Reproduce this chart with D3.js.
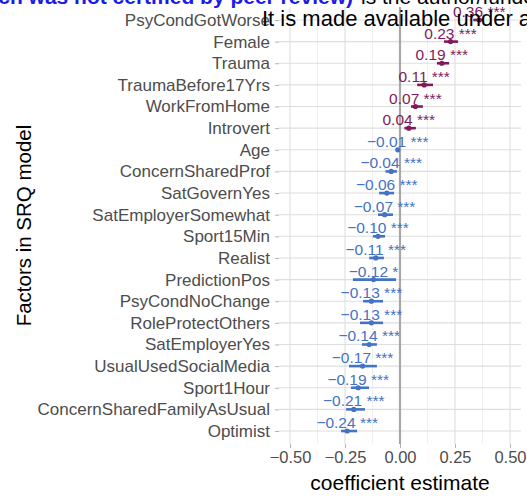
<!DOCTYPE html>
<html>
<head>
<meta charset="utf-8">
<script src="https://cdn.jsdelivr.net/npm/d3@7"></script>
<style>
  body { margin: 0; background: #fff; }
  svg { display: block; font-family: "Liberation Sans", Arial, sans-serif; }
</style>
</head>
<body>
<div id="chart"></div>
<script>
// factors top to bottom
const factors = [
    "PsyCondGotWorse", "Female", "Trauma", "TraumaBefore17Yrs", "WorkFromHome",
    "Introvert", "Age", "ConcernSharedProf", "SatGovernYes", "SatEmployerSomewhat",
    "Sport15Min", "Realist", "PredictionPos", "PsyCondNoChange", "RoleProtectOthers",
    "SatEmployerYes", "UsualUsedSocialMedia", "Sport1Hour", "ConcernSharedFamilyAsUsual", "Optimist"
];
const estimates = [0.36, 0.23, 0.19, 0.11, 0.07, 0.04, -0.01, -0.04, -0.06, -0.07,
    -0.10, -0.11, -0.12, -0.13, -0.13, -0.14, -0.17, -0.19, -0.21, -0.24];
const lower = [0.333, 0.200, 0.168, 0.078, 0.050, 0.020, -0.013, -0.066, -0.095, -0.100,
    -0.123, -0.140, -0.214, -0.168, -0.182, -0.173, -0.232, -0.223, -0.245, -0.268];
const upper = [0.377, 0.264, 0.223, 0.150, 0.104, 0.072, -0.007, -0.014, -0.027, -0.032,
    -0.068, -0.073, -0.018, -0.077, -0.077, -0.105, -0.105, -0.141, -0.159, -0.195];
const stars = ["***", "***", "***", "***", "***", "***", "***", "***", "***", "***",
    "***", "***", "*", "***", "***", "***", "***", "***", "***", "***"];
const xTicks = [-0.5, -0.25, 0, 0.25, 0.5];
const xMinor = [-0.375, -0.125, 0.125, 0.375];

const data = factors.map((f, i) => ({
    factor: f, est: estimates[i], lo: lower[i], hi: upper[i], stars: stars[i]
}));

const width = 527, height = 497;
const margin = { top: 7, right: 6, bottom: 53, left: 279 };
const posColor = "#7F1B5B", negColor = "#4472C4";

const svg = d3.select("#chart").append("svg")
    .attr("width", width)
    .attr("height", height);

const x = d3.scaleLinear()
    .domain([-0.55, 0.55])
    .range([margin.left, width - margin.right]);

const y = d3.scalePoint()
    .domain(factors)
    .range([margin.top, height - margin.bottom])
    .padding(0.6);

const panelTop = margin.top, panelBottom = height - margin.bottom;

// grid
const grid = svg.append("g");
grid.selectAll(".minor")
    .data(xMinor)
    .join("line")
    .attr("x1", d => x(d)).attr("x2", d => x(d))
    .attr("y1", panelTop).attr("y2", panelBottom)
    .attr("stroke", "#e6e6e6").attr("stroke-width", 0.6);
grid.selectAll(".vmajor")
    .data(xTicks)
    .join("line")
    .attr("x1", d => x(d)).attr("x2", d => x(d))
    .attr("y1", panelTop).attr("y2", panelBottom)
    .attr("stroke", "#dedede").attr("stroke-width", 1.1);
grid.selectAll(".hmajor")
    .data(factors)
    .join("line")
    .attr("x1", margin.left).attr("x2", width - margin.right)
    .attr("y1", d => y(d)).attr("y2", d => y(d))
    .attr("stroke", "#dedede").attr("stroke-width", 1.1);

// zero reference line
svg.append("line")
    .attr("x1", x(0)).attr("x2", x(0))
    .attr("y1", panelTop).attr("y2", panelBottom)
    .attr("stroke", "#a8a8a8").attr("stroke-width", 2.2);

// axes
const xAxis = svg.append("g")
    .attr("transform", `translate(0,${panelBottom})`)
    .call(d3.axisBottom(x).tickValues(xTicks).tickSize(4).tickPadding(3)
        .tickFormat(d => d3.format(".2f")(d).replace("-", "\u2212")));
xAxis.select(".domain").remove();
xAxis.selectAll("line").attr("stroke", "#b3b3b3");
xAxis.selectAll("text").attr("fill", "#4d4d4d").attr("font-size", "16.5px");

const yAxis = svg.append("g")
    .attr("transform", `translate(${margin.left},0)`)
    .call(d3.axisLeft(y).tickSize(4).tickPadding(5));
yAxis.select(".domain").remove();
yAxis.selectAll("line").attr("stroke", "#b3b3b3");
yAxis.selectAll("text").attr("fill", "#4d4d4d").attr("font-size", "17px");

// CI segments and points
const color = d => d.est > 0 ? posColor : negColor;
svg.selectAll(".ci")
    .data(data)
    .join("line")
    .attr("x1", d => x(d.lo)).attr("x2", d => x(d.hi))
    .attr("y1", d => y(d.factor)).attr("y2", d => y(d.factor))
    .attr("stroke", color).attr("stroke-width", 2.6);
svg.selectAll(".pt")
    .data(data)
    .join("circle")
    .attr("cx", d => x(d.est)).attr("cy", d => y(d.factor))
    .attr("r", 2.6)
    .attr("fill", color);

// value labels
svg.selectAll(".lbl")
    .data(data)
    .join("text")
    .attr("x", d => x(d.est))
    .attr("y", d => y(d.factor) - 3)
    .attr("text-anchor", "middle")
    .attr("font-size", "15.5px")
    .attr("fill", color)
    .text(d => d3.format(".2f")(d.est).replace("-", "\u2212") + " " + d.stars);

// axis titles
svg.append("text")
    .attr("x", x(0))
    .attr("y", 490)
    .attr("text-anchor", "middle")
    .attr("font-size", "21px")
    .attr("fill", "#000")
    .text("coefficient estimate");

svg.append("text")
    .attr("transform", `translate(31,${(panelTop + panelBottom) / 2}) rotate(-90)`)
    .attr("text-anchor", "middle")
    .attr("font-size", "20.5px")
    .attr("fill", "#000")
    .text("Factors in SRQ model");

// preprint watermark lines on top
svg.append("text")
    .attr("x", 353)
    .attr("y", 4)
    .attr("text-anchor", "end")
    .attr("font-size", "21px")
    .attr("font-weight", "bold")
    .attr("fill", "#1a1aee")
    .text("preprint (which was not certified by peer review)");
svg.append("text")
    .attr("x", 361)
    .attr("y", 4)
    .attr("font-size", "21px")
    .attr("fill", "#000")
    .text("is the author/funder, who has granted medRxiv a license");
svg.append("text")
    .attr("x", 262)
    .attr("y", 26)
    .attr("font-size", "22px")
    .attr("fill", "#000")
    .text("It is made available under a CC-BY-NC-ND 4.0 International license .");
</script>
</body>
</html>
